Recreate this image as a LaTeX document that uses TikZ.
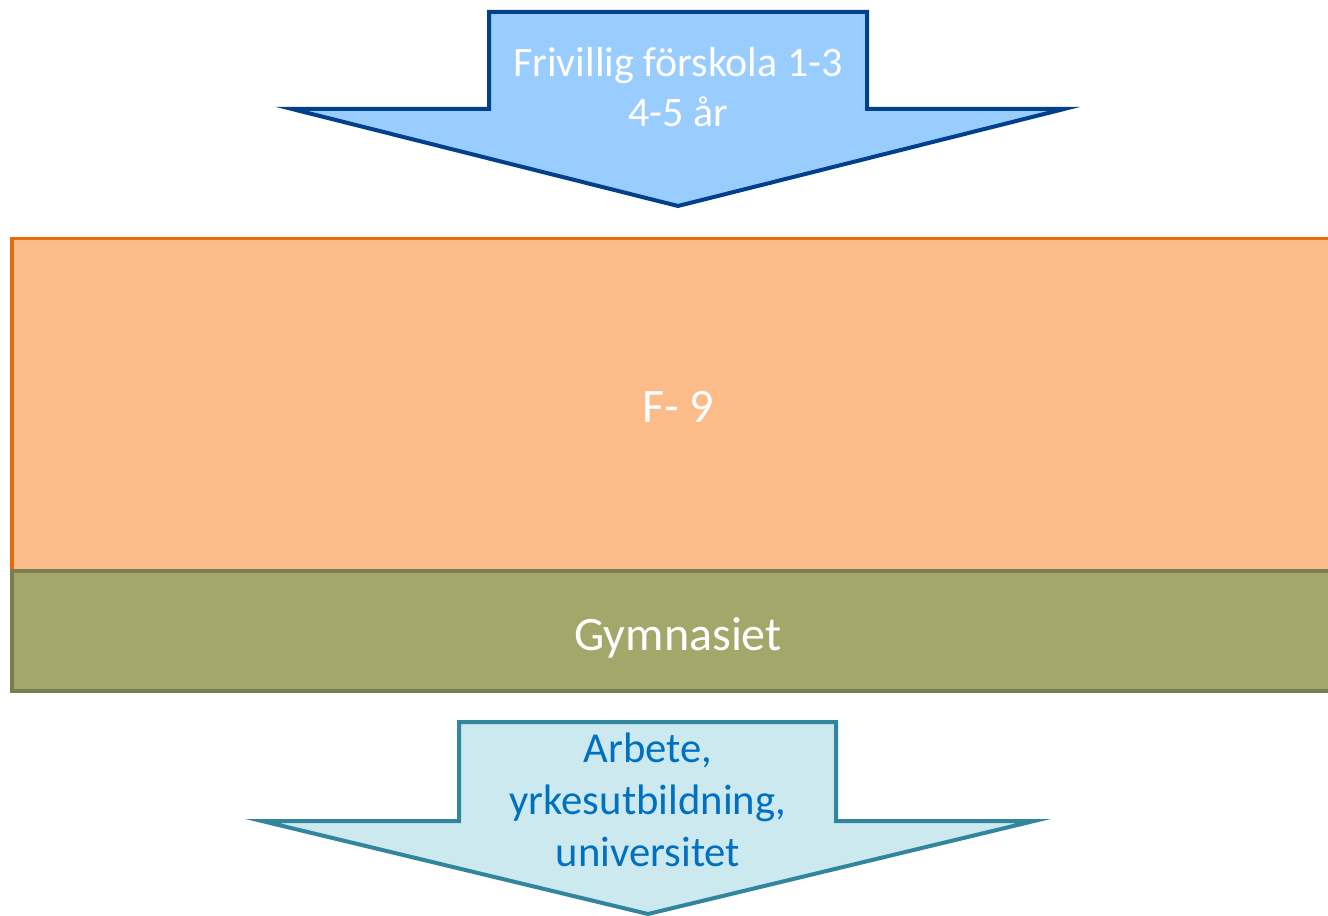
\documentclass[tikz,border=0pt]{standalone}
\usepackage{fontspec}
\setmainfont{Carlito}
\definecolor{topfill}{RGB}{153,204,255}
\definecolor{topline}{RGB}{0,64,140}
\definecolor{orfill}{RGB}{252,188,138}
\definecolor{orline}{RGB}{228,108,10}
\definecolor{grfill}{RGB}{163,168,106}
\definecolor{grline}{RGB}{122,124,82}
\definecolor{botfill}{RGB}{205,233,240}
\definecolor{botline}{RGB}{49,133,156}
\definecolor{bottext}{RGB}{0,112,192}
\tikzset{
  arrowshape/.style={line width=3pt, line join=miter},
  band/.style={line width=3pt},
  lbl/.style={align=center, inner sep=0pt},
}
\begin{document}
\begin{tikzpicture}[x=0.75pt,y=-0.75pt]
\useasboundingbox (0,0) rectangle (1328,916);
\clip (0,0) rectangle (1328,916);
% top arrow
\draw[arrowshape, fill=topfill, draw=topline]
  (489,12) -- (867,12) -- (867,109) -- (1064,109) -- (678,206) -- (292,109) -- (489,109) -- cycle;
\node[lbl, text=white, font=\fontsize{31.5}{37.5}\selectfont] (pre) at (678,87) {Frivillig förskola 1-3\\4-5 år};
% F-9
\draw[band, draw=orline] (12,571) -- (12,239) -- (1340,239);
\fill[orfill] (13.5,240.5) rectangle (1340,571);
\node[lbl, text=white, font=\fontsize{36}{40}\selectfont, anchor=base] (f9) at (678,422) {F- 9};
% Gymnasiet
\draw[band, fill=grfill, draw=grline] (1340,571) -- (12,571) -- (12,691) -- (1340,691);
\node[lbl, text=white, font=\fontsize{36}{40}\selectfont, anchor=base] (gym) at (678,650) {Gymnasiet};
% bottom arrow
\draw[arrowshape, fill=botfill, draw=botline]
  (459,722) -- (836,722) -- (836,821) -- (1034,821) -- (648,914) -- (262,821) -- (459,821) -- cycle;
\node[lbl, text=bottext, font=\fontsize{32}{39}\selectfont] (next) at (648,800) {Arbete,\\yrkesutbildning,\\universitet};
\end{tikzpicture}
\end{document}
